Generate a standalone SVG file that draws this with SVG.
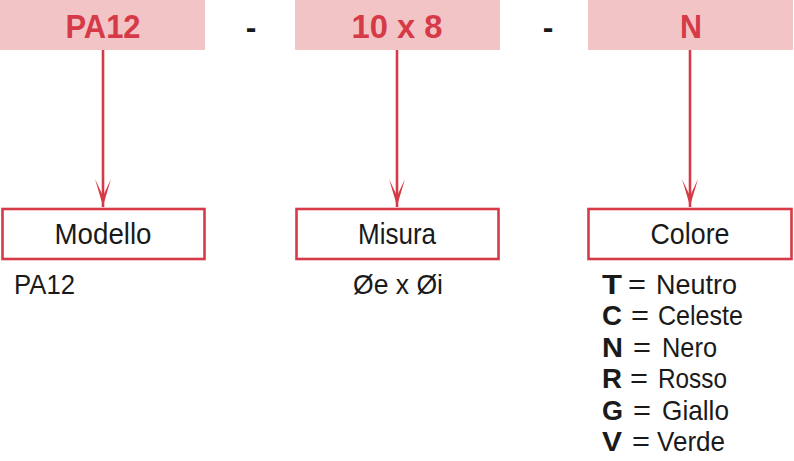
<svg xmlns="http://www.w3.org/2000/svg" width="794" height="461" viewBox="0 0 794 461">
<style>
.hdr{fill:#f2c4c6}
.ht{font-family:"Liberation Sans",Arial,sans-serif;font-weight:bold;font-size:34px;fill:#d63a46;text-anchor:middle}
.dash{font-family:"Liberation Sans",Arial,sans-serif;font-weight:bold;font-size:32px;fill:#1a1a1a;text-anchor:middle}
.box{fill:#fff;stroke:#d63a46;stroke-width:2.6}
.bt{font-family:"Liberation Sans",Arial,sans-serif;font-size:29px;fill:#1a1a1a;text-anchor:middle}
.t{font-family:"Liberation Sans",Arial,sans-serif;font-size:28px;fill:#1a1a1a}
.b{font-weight:bold}
.conn{stroke:#d63a46;stroke-width:2.6;fill:none}
</style>
<defs>
<path id="ah" d="M-8,-27 L0,-10 L8,-27 L0,0 Z" fill="#d63a46"/>
</defs>
<g id="header-pa12">
<rect class="hdr" x="0" y="0" width="205" height="50"/>
<text class="ht" x="103" y="38" textLength="75" lengthAdjust="spacingAndGlyphs">PA12</text>
</g>
<text class="dash" x="251" y="38">-</text>
<g id="header-size">
<rect class="hdr" x="295" y="0" width="205" height="50"/>
<text class="ht" x="397" y="38" textLength="91" lengthAdjust="spacingAndGlyphs">10 x 8</text>
</g>
<text class="dash" x="548" y="38">-</text>
<g id="header-color">
<rect class="hdr" x="588" y="0" width="205" height="50"/>
<text class="ht" x="691" y="38" textLength="22" lengthAdjust="spacingAndGlyphs">N</text>
</g>
<g id="connectors">
<line class="conn" x1="103" y1="50" x2="103" y2="207"/>
<use href="#ah" x="103" y="206"/>
<line class="conn" x1="397" y1="50" x2="397" y2="207"/>
<use href="#ah" x="397" y="206"/>
<line class="conn" x1="690" y1="50" x2="690" y2="207"/>
<use href="#ah" x="690" y="206"/>
</g>
<g id="node-modello">
<rect class="box" x="2.5" y="209" width="202" height="50"/>
<text class="bt" x="103" y="244" textLength="97" lengthAdjust="spacingAndGlyphs">Modello</text>
<text class="t" x="14" y="294" textLength="61" lengthAdjust="spacingAndGlyphs">PA12</text>
</g>
<g id="node-misura">
<rect class="box" x="296.5" y="209" width="202" height="50"/>
<text class="bt" x="397" y="244" textLength="78" lengthAdjust="spacingAndGlyphs">Misura</text>
<text class="t" x="353" y="294" textLength="90" lengthAdjust="spacingAndGlyphs">Øe x Øi</text>
</g>
<g id="node-colore">
<rect class="box" x="588.5" y="209" width="203" height="50"/>
<text class="bt" x="690" y="244" textLength="79" lengthAdjust="spacingAndGlyphs">Colore</text>
<text class="t b" x="602" y="294" textLength="20" lengthAdjust="spacingAndGlyphs">T</text>
<text class="t" x="628" y="294" textLength="18" lengthAdjust="spacingAndGlyphs">=</text>
<text class="t" x="656" y="294" textLength="81" lengthAdjust="spacingAndGlyphs">Neutro</text>
<text class="t b" x="602" y="325" textLength="20" lengthAdjust="spacingAndGlyphs">C</text>
<text class="t" x="631" y="325" textLength="18" lengthAdjust="spacingAndGlyphs">=</text>
<text class="t" x="658" y="325" textLength="85" lengthAdjust="spacingAndGlyphs">Celeste</text>
<text class="t b" x="602" y="357" textLength="21" lengthAdjust="spacingAndGlyphs">N</text>
<text class="t" x="633" y="357" textLength="18" lengthAdjust="spacingAndGlyphs">=</text>
<text class="t" x="662" y="357" textLength="55" lengthAdjust="spacingAndGlyphs">Nero</text>
<text class="t b" x="602" y="388" textLength="20" lengthAdjust="spacingAndGlyphs">R</text>
<text class="t" x="630" y="388" textLength="18" lengthAdjust="spacingAndGlyphs">=</text>
<text class="t" x="658" y="388" textLength="69" lengthAdjust="spacingAndGlyphs">Rosso</text>
<text class="t b" x="602" y="420" textLength="21" lengthAdjust="spacingAndGlyphs">G</text>
<text class="t" x="633" y="420" textLength="18" lengthAdjust="spacingAndGlyphs">=</text>
<text class="t" x="662" y="420" textLength="67" lengthAdjust="spacingAndGlyphs">Giallo</text>
<text class="t b" x="602" y="451" textLength="20" lengthAdjust="spacingAndGlyphs">V</text>
<text class="t" x="632" y="451" textLength="18" lengthAdjust="spacingAndGlyphs">=</text>
<text class="t" x="657" y="451" textLength="68" lengthAdjust="spacingAndGlyphs">Verde</text>
</g>
</svg>
